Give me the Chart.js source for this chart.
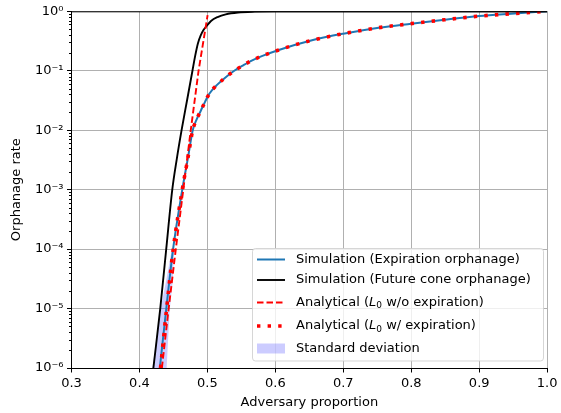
<!DOCTYPE html>
<html>
<head>
<meta charset="utf-8">
<script src="https://cdn.jsdelivr.net/npm/chart.js@4.4.0/dist/chart.umd.min.js"></script>
<style>
  html, body { margin: 0; padding: 0; background: #fff; }
  canvas { display: block; }
</style>
</head>
<body>
<canvas id="chart" width="561" height="413"></canvas>
<script>
// values
const xTicks = [0.3, 0.4, 0.5, 0.6, 0.7, 0.8, 0.9, 1.0];
const yTicks = [1e-6, 1e-5, 1e-4, 1e-3, 1e-2, 1e-1, 1];
const yTickLabels = ['10⁻⁶', '10⁻⁵', '10⁻⁴', '10⁻³', '10⁻²', '10⁻¹', '10⁰'];

// simulation, expiration orphanage (blue)
const expX    = [0.430, 0.4395, 0.4495, 0.463, 0.4715, 0.4784, 0.4845, 0.4906, 0.4965, 0.5028, 0.515, 0.527, 0.539, 0.552, 0.566, 0.581, 0.605, 0.654, 0.70, 0.752, 0.80, 0.849, 0.90, 0.947, 1.0];
const expRate = [1e-6, 1e-5, 1e-4, 1e-3, 3.5e-3, 1e-2, 0.0155, 0.0217, 0.030, 0.041, 0.059, 0.078, 0.099, 0.122, 0.150, 0.178, 0.224, 0.326, 0.42, 0.53, 0.62, 0.72, 0.83, 0.91, 1.0];

// simulation, future cone orphanage (black)
const coneX    = [0.4205, 0.4306, 0.4394, 0.4483, 0.4548, 0.4620, 0.4700, 0.4780, 0.482, 0.486, 0.490, 0.494, 0.498, 0.5053, 0.515, 0.527, 0.545, 0.57, 0.60, 0.70, 0.80, 0.90, 1.0];
const coneRate = [1e-6, 1e-5, 1e-4, 1e-3, 3.2e-3, 1e-2, 0.0316, 0.10, 0.178, 0.288, 0.389, 0.479, 0.55, 0.687, 0.80, 0.89, 0.955, 0.986, 0.998, 1, 1, 1, 1];

// analytical, L0 without expiration (red dashed)
const noExpX    = [0.433, 0.443, 0.4535, 0.4645, 0.4755, 0.487, 0.5003];
const noExpRate = [1e-6, 1e-5, 1e-4, 1e-3, 1e-2, 0.1, 0.86];

// analytical, L0 with expiration (red dotted)
const withExpX    = [0.431, 0.4400, 0.4497, 0.463, 0.4715, 0.4784, 0.4845, 0.4906, 0.4965, 0.5028, 0.515, 0.527, 0.539, 0.552, 0.566, 0.581, 0.605, 0.654, 0.70, 0.752, 0.80, 0.849, 0.90, 0.947, 1.0];
const withExpRate = [1e-6, 1e-5, 1e-4, 1e-3, 3.5e-3, 1e-2, 0.0155, 0.0217, 0.030, 0.041, 0.059, 0.078, 0.099, 0.122, 0.150, 0.178, 0.224, 0.326, 0.42, 0.53, 0.62, 0.72, 0.83, 0.91, 1.0];

// standard deviation band outline (left edge up, right edge down)
const bandX    = [0.4190, 0.4306, 0.4394, 0.4478, 0.4512, 0.4490, 0.4445, 0.4400];
const bandRate = [1e-6, 9.4e-6, 3e-5, 1e-4, 1e-4, 3e-5, 9.4e-6, 1e-6];

const pts = (xs, ys) => xs.map((x, i) => ({ x: x, y: ys[i] }));

const FONT = '"DejaVu Sans", sans-serif';
const FSIZE = 13;

const decor = {
  id: 'decor',
  afterDraw(chart) {
    const ctx = chart.ctx;
    const a = chart.chartArea;
    const y = chart.scales.y;
    ctx.save();
    // top spine
    ctx.strokeStyle = '#000';
    ctx.lineWidth = 1;
    ctx.beginPath();
    ctx.moveTo(a.left, a.top + 0.5);
    ctx.lineTo(a.right, a.top + 0.5);
    ctx.stroke();
    // minor ticks on the log axis
    for (let e = -6; e < 0; e++) {
      for (let k = 2; k <= 9; k++) {
        const py = Math.round(y.getPixelForValue(k * Math.pow(10, e))) + 0.5;
        ctx.beginPath();
        ctx.moveTo(a.left - 2.5, py);
        ctx.lineTo(a.left, py);
        ctx.stroke();
      }
    }
    drawLegend(chart, ctx);
    ctx.restore();
  }
};

function drawLabel(ctx, text, x, y) {
  const parts = text.split('L_0');
  ctx.font = FSIZE + 'px ' + FONT;
  ctx.fillText(parts[0], x, y);
  if (parts.length < 2) return;
  x += ctx.measureText(parts[0]).width;
  ctx.font = 'italic ' + FSIZE + 'px ' + FONT;
  ctx.fillText('L', x, y);
  x += ctx.measureText('L').width;
  ctx.font = '9px ' + FONT;
  ctx.fillText('0', x, y + 3.5);
  x += ctx.measureText('0').width;
  ctx.font = FSIZE + 'px ' + FONT;
  ctx.fillText(parts[1], x, y);
}

function drawLegend(chart, ctx) {
  const bx = 252.5, by = 248.5, bw = 291, bh = 112.5;
  const rows = [259.5, 280, 302.5, 326, 348.5];
  ctx.beginPath();
  ctx.roundRect(bx, by, bw, bh, 3);
  ctx.fillStyle = 'rgba(255,255,255,0.8)';
  ctx.fill();
  ctx.strokeStyle = 'rgba(204,204,204,0.8)';
  ctx.lineWidth = 1;
  ctx.stroke();
  chart.data.datasets.forEach((ds, i) => {
    const ry = rows[i];
    if (ds.fill === 'shape') {
      ctx.fillStyle = ds.backgroundColor;
      ctx.fillRect(257, ry - 5, 28, 10);
    } else {
      ctx.strokeStyle = ds.borderColor;
      ctx.lineWidth = ds.borderWidth;
      ctx.setLineDash(ds.borderDash || []);
      ctx.lineCap = 'butt';
      ctx.beginPath();
      ctx.moveTo(257, ry);
      ctx.lineTo(285, ry);
      ctx.stroke();
      ctx.setLineDash([]);
    }
    ctx.fillStyle = '#000';
    ctx.textBaseline = 'middle';
    ctx.textAlign = 'left';
    drawLabel(ctx, ds.label, 296, ry);
  });
}

new Chart(document.getElementById('chart'), {
  type: 'scatter',
  data: {
    datasets: [
      { label: 'Simulation (Expiration orphanage)', data: pts(expX, expRate), showLine: true,
        borderColor: '#1f77b4', borderWidth: 2, pointRadius: 0, cubicInterpolationMode: 'monotone', order: 4 },
      { label: 'Simulation (Future cone orphanage)', data: pts(coneX, coneRate), showLine: true,
        borderColor: '#000000', borderWidth: 1.9, pointRadius: 0, cubicInterpolationMode: 'monotone', order: 3 },
      { label: 'Analytical (L_0 w/o expiration)', data: pts(noExpX, noExpRate), showLine: true,
        borderColor: '#ff0000', borderWidth: 1.9, borderDash: [6.5, 3], pointRadius: 0, tension: 0, order: 2 },
      { label: 'Analytical (L_0 w/ expiration)', data: pts(withExpX, withExpRate), showLine: true,
        borderColor: '#ff0000', borderWidth: 3.6, borderDash: [3.4, 7.2], borderCapStyle: 'butt', pointRadius: 0, cubicInterpolationMode: 'monotone', order: 1 },
      { label: 'Standard deviation', data: pts(bandX, bandRate), showLine: true, fill: 'shape',
        backgroundColor: 'rgba(0,0,255,0.2)', borderWidth: 0, borderColor: 'rgba(0,0,0,0)', pointRadius: 0, tension: 0, clip: 0, order: 5 }
    ]
  },
  options: {
    responsive: false,
    animation: false,
    events: [],
    layout: { padding: { left: 0, right: 11, top: 11, bottom: 0 } },
    plugins: { legend: { display: false }, tooltip: { enabled: false } },
    scales: {
      x: {
        type: 'linear', min: 0.3, max: 1.0,
        afterBuildTicks: s => { s.ticks = xTicks.map(v => ({ value: v })); },
        afterFit: s => { s.height = 45; },
        ticks: { autoSkip: false, maxRotation: 0, padding: 3.5, color: '#000',
          font: { family: FONT, size: FSIZE }, callback: v => v.toFixed(1) },
        grid: { color: '#b0b0b0', lineWidth: 1, tickColor: '#000', tickLength: 4.5 },
        border: { color: '#000', width: 1 },
        title: { display: true, text: 'Adversary proportion', color: '#000',
          font: { family: FONT, size: FSIZE }, padding: { top: 0, bottom: 3 } }
      },
      y: {
        type: 'logarithmic', min: 1e-6, max: 1,
        afterBuildTicks: s => { s.ticks = yTicks.map(v => ({ value: v, major: true })); },
        afterFit: s => { s.width = 71.5; },
        ticks: { padding: 3.5, color: '#000', font: { family: FONT, size: FSIZE },
          callback: (v, i) => yTickLabels[i] },
        grid: { color: '#b0b0b0', lineWidth: 1, tickColor: '#000', tickLength: 4.5 },
        border: { color: '#000', width: 1 },
        title: { display: true, text: 'Orphanage rate', color: '#000',
          font: { family: FONT, size: FSIZE }, padding: { top: 9, bottom: 0 } }
      }
    }
  },
  plugins: [decor]
});
</script>
</body>
</html>
